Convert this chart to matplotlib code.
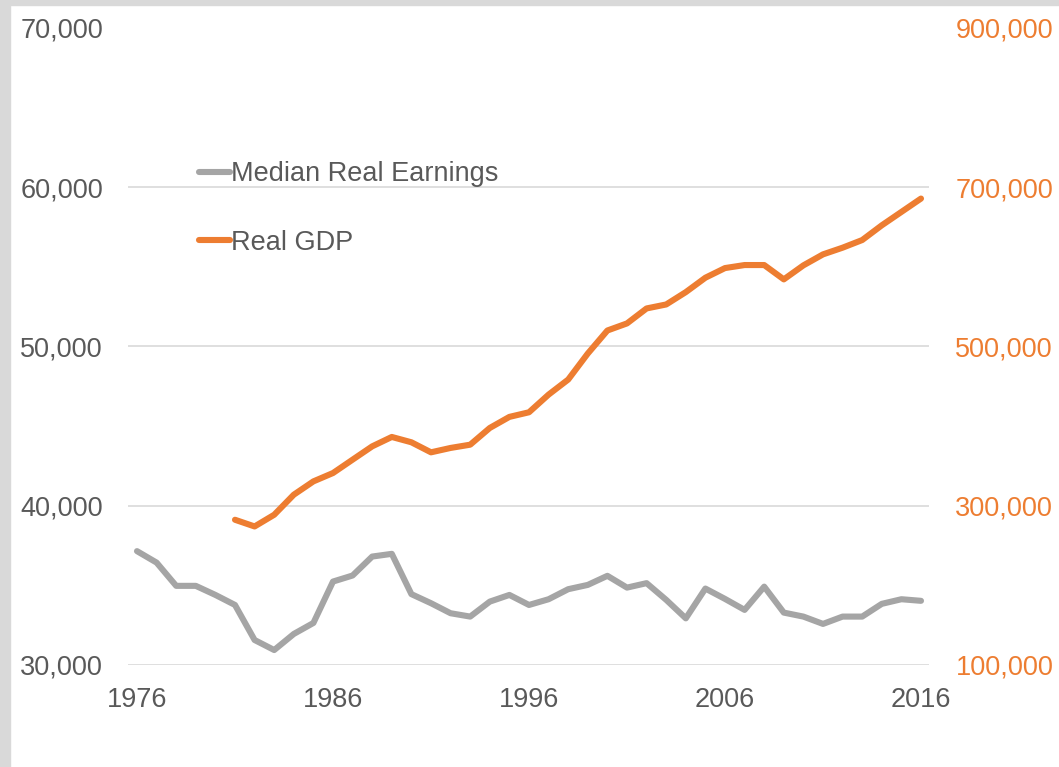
import matplotlib.pyplot as plt
from matplotlib.patches import Rectangle
from matplotlib.ticker import FuncFormatter

plt.rcParams['font.family'] = ['Liberation Sans', 'DejaVu Sans']

earn_years = list(range(1976, 2017))
earnings = [37150, 36430, 34970, 34970, 34400, 33770, 31570, 30940, 31950, 32640,
            35240, 35620, 36810, 36980, 34450, 33880, 33250, 33040, 33980, 34400,
            33770, 34130, 34760, 35030, 35600, 34860, 35140, 34090, 32930, 34800,
            34150, 33460, 34920, 33290, 33040, 32580, 33040, 33040, 33840, 34130,
            34030]

gdp_years = list(range(1981, 2017))
gdp = [282400, 274000, 288700, 313900, 330600, 341100, 357900, 374600, 386400, 379700,
       367100, 372600, 376700, 397700, 411600, 417400, 439600, 458500, 491200, 520100,
       529000, 547800, 552800, 568300, 586400, 598500, 602300, 602300, 584300, 601900,
       615700, 624100, 633700, 652200, 669000, 685800]

x_ticks = [1976, 1986, 1996, 2006, 2016]
left_ticks = [30000, 40000, 50000, 60000, 70000]
right_ticks = [100000, 300000, 500000, 700000, 900000]

gray = '#A5A5A5'
orange = '#ED7D31'
text_col = '#595959'
fs = 19.5

fig = plt.figure(figsize=(10.59, 7.67), dpi=100)
fig.patches.append(Rectangle((0, 0), 9.5 / 1059, 1, transform=fig.transFigure,
                             color='#D9D9D9', zorder=0))
fig.patches.append(Rectangle((0, 1 - 5 / 767), 1, 5 / 767, transform=fig.transFigure,
                             color='#D9D9D9', zorder=0))

ax = fig.add_axes([128 / 1059, 1 - 665 / 767, 801 / 1059, 637 / 767])
ax.patch.set_alpha(0)
ax2 = ax.twinx()

l1, = ax.plot(earn_years, earnings, color=gray, lw=4.4, solid_capstyle='round',
              solid_joinstyle='round', label='Median Real Earnings')
l2, = ax2.plot(gdp_years, gdp, color=orange, lw=4.4, solid_capstyle='round',
               solid_joinstyle='round', label='Real GDP')

ax.set_xlim(1976 - 9 / 19.6, 2016 + 8 / 19.6)
ax.set_ylim(30000, 70000)
ax2.set_ylim(100000, 900000)
ax.set_xticks(x_ticks)
ax.set_yticks(left_ticks)
ax2.set_yticks(right_ticks)

fmt = FuncFormatter(lambda v, p: f'{int(v):,}')
ax.yaxis.set_major_formatter(fmt)
ax2.yaxis.set_major_formatter(fmt)

for a in (ax, ax2):
    for s in a.spines.values():
        s.set_visible(False)

ax.tick_params(axis='both', length=0, labelsize=fs, labelcolor=text_col)
ax.tick_params(axis='y', pad=18)
ax.tick_params(axis='x', pad=16)
ax2.tick_params(axis='y', length=0, labelsize=fs, labelcolor=orange, pad=19)

ax.grid(axis='y', color='#D9D9D9', lw=1.2)
ax.grid(axis='x', visible=False)
ax.get_ygridlines()[-1].set_visible(False)
ax.set_axisbelow(True)

leg = ax2.legend(handles=[l1, l2], loc='upper left', bbox_to_anchor=(0.058, 0.829),
                 frameon=False, fontsize=fs, handlelength=1.15, handletextpad=0.05,
                 labelspacing=1.57, labelcolor=text_col)

fig.savefig('out.png', dpi=100)
